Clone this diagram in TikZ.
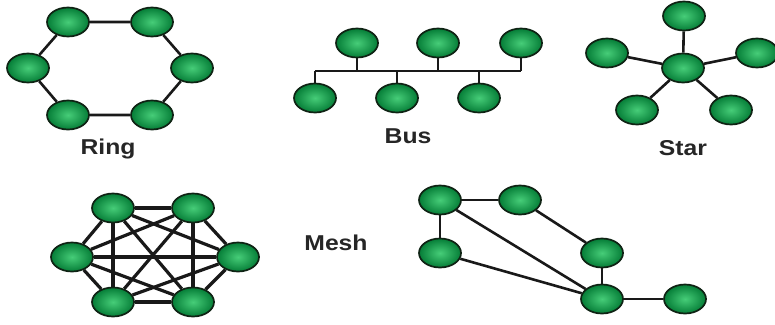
\documentclass[tikz,border=0pt]{standalone}
\usepackage{fontspec}
\newfontfamily\labfont[FakeStretch=1.15]{Liberation Sans}
\usetikzlibrary{shapes.geometric,backgrounds}
\definecolor{gin}{RGB}{70,205,120}
\definecolor{gout}{RGB}{5,125,55}
\definecolor{rim}{RGB}{15,35,20}
\tikzset{
  pc/.style={ellipse, minimum width=42pt, minimum height=29pt, draw=rim, line width=1.7pt, inner color=gin, outer color=gout},
  lnk/.style={draw=black!90, line width=2.6pt},
  mlnk/.style={draw=black!90, line width=3.2pt},
  lab/.style={font=\labfont\bfseries\fontsize{21.5}{25}\selectfont, text=black!85}
}
\begin{document}
\begin{tikzpicture}[x=1pt,y=-1pt]
\useasboundingbox (0,0) rectangle (775,324);
% Ring
\node[pc] (r1) at (68,22) {};
\node[pc] (r2) at (152,22) {};
\node[pc] (r3) at (192,68) {};
\node[pc] (r4) at (152,115) {};
\node[pc] (r5) at (68,115) {};
\node[pc] (r6) at (28,68) {};
\node[lab] (lring) at (108,149) {Ring};
% Bus
\node[pc] (b1) at (357,43) {};
\node[pc] (b2) at (438,43) {};
\node[pc] (b3) at (521,43) {};
\node[pc] (b4) at (315,98) {};
\node[pc] (b5) at (397,98) {};
\node[pc] (b6) at (479,98) {};
\coordinate (busL) at (315,71);
\coordinate (busR) at (521,71);
\node[lab] (lbus) at (408,136) {Bus};
% Star
\node[pc] (sc) at (683,68) {};
\node[pc] (s1) at (684,16) {};
\node[pc] (s2) at (607,53) {};
\node[pc] (s3) at (757,53) {};
\node[pc] (s4) at (637,110) {};
\node[pc] (s5) at (731,110) {};
\node[lab] (lstar) at (683,148) {Star};
% Mesh
\node[pc] (m1) at (113,208) {};
\node[pc] (m2) at (193,208) {};
\node[pc] (m3) at (238,257) {};
\node[pc] (m4) at (193,302) {};
\node[pc] (m5) at (113,302) {};
\node[pc] (m6) at (72,257) {};
\node[lab] (lmesh) at (336,243) {Mesh};
% Partial mesh
\node[pc] (pa) at (440,200) {};
\node[pc] (pb) at (520,200) {};
\node[pc] (pc) at (440,253) {};
\node[pc] (pd) at (602,253) {};
\node[pc] (pe) at (602,299) {};
\node[pc] (pf) at (685,299) {};
\begin{scope}[on background layer]
\draw[lnk] (r1) -- (r2) -- (r3) -- (r4) -- (r5) -- (r6) -- (r1);
\draw[lnk] (busL) -- (busR);
\foreach \n in {b1,b2,b3,b4,b5,b6} \draw[lnk] (\n) -- (\n |- busL);
\foreach \s in {s1,s2,s3,s4,s5} \draw[lnk] (sc) -- (\s);
\foreach \a/\b in {m1/m2,m1/m3,m1/m4,m1/m5,m1/m6,m2/m3,m2/m4,m2/m5,m2/m6,m3/m4,m3/m5,m3/m6,m4/m5,m4/m6,m5/m6}
  \draw[mlnk] (\a) -- (\b);
\draw[lnk] (pa) -- (pb);
\draw[lnk] (pa) -- (pc);
\draw[lnk] (pa) -- (pe);
\draw[lnk] (pc) -- (pe);
\draw[lnk] (pb) -- (pd);
\draw[lnk] (pd) -- (pe);
\draw[lnk] (pe) -- (pf);
\end{scope}
\end{tikzpicture}
\end{document}
